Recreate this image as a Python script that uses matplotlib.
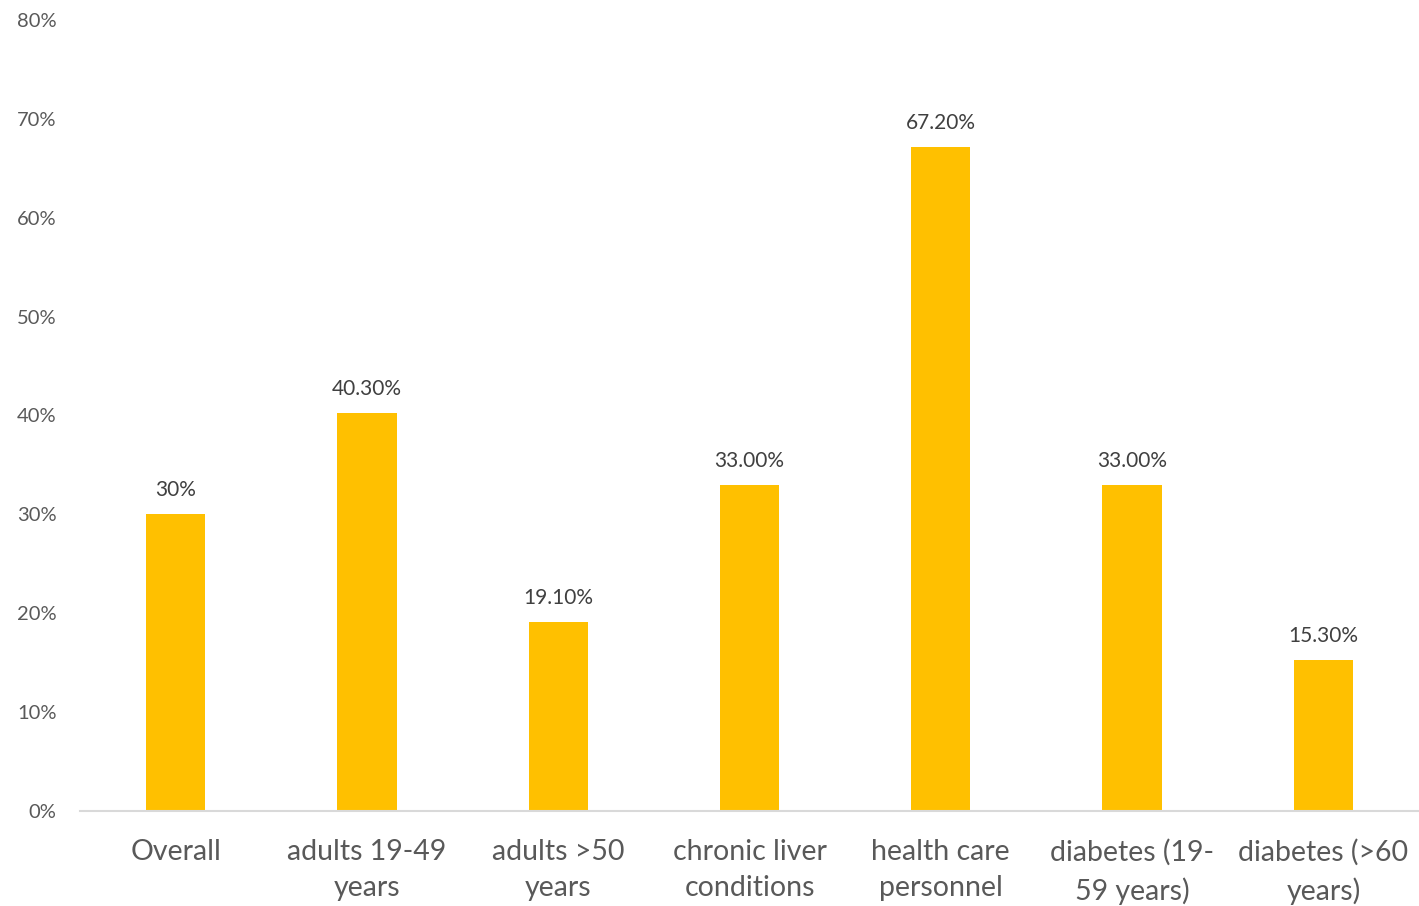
import matplotlib.pyplot as plt
from matplotlib.ticker import FuncFormatter

categories = ['Overall', 'adults 19-49\nyears', 'adults >50\nyears',
              'chronic liver\nconditions', 'health care\npersonnel',
              'diabetes (19-\n59 years)', 'diabetes (>60\nyears)']
values = [30.0, 40.3, 19.1, 33.0, 67.2, 33.0, 15.3]
value_labels = ['30%', '40.30%', '19.10%', '33.00%', '67.20%', '33.00%', '15.30%']
y_ticks = [0, 10, 20, 30, 40, 50, 60, 70, 80]

plt.rcParams['font.family'] = ['Lato', 'DejaVu Sans']

fig = plt.figure(figsize=(14.19, 9.06), dpi=100)
ax = fig.add_axes([80 / 1419, 95 / 906, 1 - 80 / 1419, 791 / 906])

x = range(len(categories))
bars = ax.bar(x, values, width=0.31, color='#FFC000', zorder=2)

for bar, label in zip(bars, value_labels):
    ax.annotate(label, (bar.get_x() + bar.get_width() / 2, bar.get_height()),
                xytext=(0, 10), textcoords='offset points',
                ha='center', va='bottom', fontsize=15, color='#404040')

ax.set_xlim(-0.5, len(categories) - 0.5)
ax.set_ylim(0, 80)
ax.set_yticks(y_ticks)
ax.yaxis.set_major_formatter(FuncFormatter(lambda v, p: f'{v:.0f}%'))
ax.set_xticks(list(x))
ax.set_xticklabels(categories, fontsize=20.5, color='#595959', linespacing=1.5)

ax.tick_params(axis='y', length=0, pad=17, labelsize=14.5, labelcolor='#595959')
ax.tick_params(axis='x', length=0, pad=20)

for side in ['top', 'right', 'left']:
    ax.spines[side].set_visible(False)
ax.spines['bottom'].set_color('#D9D9D9')
ax.spines['bottom'].set_linewidth(1.5)

fig.savefig('out.png', dpi=100)
